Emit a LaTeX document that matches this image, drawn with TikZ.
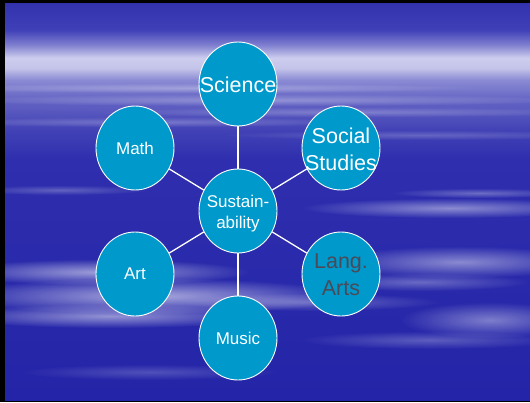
\documentclass[tikz,border=0pt]{standalone}
\usepackage{fontspec}
\setmainfont{Liberation Sans}
\usetikzlibrary{shapes.geometric,fadings}
\definecolor{bub}{HTML}{0099CC}
\definecolor{langc}{HTML}{4A4A58}
\definecolor{skA}{HTML}{3232AE}
\definecolor{skB}{HTML}{4040B8}
\definecolor{skC}{HTML}{8080D0}
\definecolor{skD}{HTML}{CDCDEE}
\definecolor{skE}{HTML}{C4C4EA}
\definecolor{skF}{HTML}{8A8AD4}
\definecolor{skG}{HTML}{6464C4}
\definecolor{skH}{HTML}{4242B6}
\definecolor{skI}{HTML}{2E2EAE}
\definecolor{skJ}{HTML}{2424A8}
\pgfdeclareverticalshading{sky}{100bp}{color(0bp)=(skJ); color(25bp)=(skJ); color(55.2bp)=(skI); color(59bp)=(skH); color(62.8bp)=(skG); color(65.3bp)=(skF); color(66.8bp)=(skE); color(68.1bp)=(skD); color(69.7bp)=(skC); color(71.6bp)=(skB); color(75bp)=(skA); color(100bp)=(skA)}
\tikzfading[name=softell, inner color=transparent!0, outer color=transparent!100]
\tikzset{
  bubble/.style={ellipse, fill=bub, draw=white, line width=0.9pt, minimum width=78pt, minimum height=84pt, inner sep=0pt},
  bigtxt/.style={font=\fontsize{21.5}{27}\selectfont, text=white, align=center},
  smalltxt/.style={font=\fontsize{17}{21}\selectfont, text=white, align=center},
  link/.style={draw=white, line width=1.3pt},
  cloud/.style={fill=white, path fading=softell}
}
\begin{document}
\begin{tikzpicture}[x=1pt,y=-1pt]
\useasboundingbox (0,0) rectangle (530,402);
\fill[black] (0,0) rectangle (530,402);
\shade[shading=sky] (5,3) rectangle (530,400);
\begin{scope}
\clip (5,3) rectangle (530,400);
% upper streaks
\fill[cloud, fill opacity=0.3] (265,100) ellipse [x radius=320, y radius=6];
\fill[cloud, fill opacity=0.3] (200,88) ellipse [x radius=280, y radius=5];
\fill[cloud, fill opacity=0.25] (350,112) ellipse [x radius=260, y radius=5];
\fill[cloud, fill opacity=0.25] (150,122) ellipse [x radius=220, y radius=5];
\fill[cloud, fill opacity=0.2] (420,135) ellipse [x radius=200, y radius=5];
% right streaks
\fill[cloud, fill opacity=0.45] (450,208) ellipse [x radius=150, y radius=10];
\fill[cloud, fill opacity=0.3] (480,193) ellipse [x radius=90, y radius=5];
\fill[cloud, fill opacity=0.45] (460,262) ellipse [x radius=130, y radius=16];
\fill[cloud, fill opacity=0.3] (420,282) ellipse [x radius=110, y radius=9];
\fill[cloud, fill opacity=0.4] (490,320) ellipse [x radius=90, y radius=18];
\fill[cloud, fill opacity=0.25] (430,340) ellipse [x radius=130, y radius=9];
% bottom-left clouds
\fill[cloud, fill opacity=0.55] (100,272) ellipse [x radius=150, y radius=13];
\fill[cloud, fill opacity=0.6] (150,296) ellipse [x radius=200, y radius=18];
\fill[cloud, fill opacity=0.5] (110,316) ellipse [x radius=160, y radius=12];
\fill[cloud, fill opacity=0.3] (310,302) ellipse [x radius=130, y radius=9];
\fill[cloud, fill opacity=0.25] (60,190) ellipse [x radius=90, y radius=5];
\fill[cloud, fill opacity=0.2] (150,372) ellipse [x radius=130, y radius=8];
\end{scope}
% bubbles
\node[bubble, label={[smalltxt, yshift=-3pt]center:{Sustain-\\ability}}] (sus) at (238,211) {};
\node[bubble, label={[bigtxt, yshift=-1pt]center:Science}] (sci) at (238,84) {};
\node[bubble, label={[smalltxt]center:Math}] (math) at (135,148) {};
\node[bubble, label={[bigtxt, yshift=-1pt]center:{Social\\Studies}}] (soc) at (341,148) {};
\node[bubble, label={[smalltxt]center:Art}] (art) at (135,274) {};
\node[bubble, label={[bigtxt, text=langc, yshift=-1pt]center:{Lang.\\Arts}}] (lang) at (341,274) {};
\node[bubble, label={[smalltxt]center:Music}] (mus) at (238,338) {};
% connectors
\draw[link] (sus) -- (sci);
\draw[link] (sus) -- (math);
\draw[link] (sus) -- (soc);
\draw[link] (sus) -- (art);
\draw[link] (sus) -- (lang);
\draw[link] (sus) -- (mus);
\end{tikzpicture}
\end{document}
